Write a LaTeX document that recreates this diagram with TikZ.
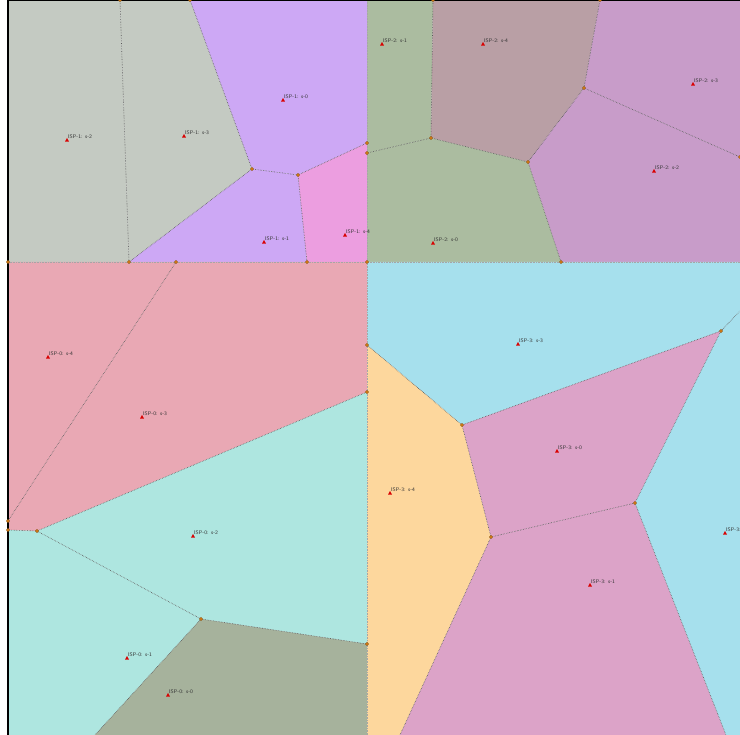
\documentclass[tikz,border=0pt]{standalone}
\usepackage{tikz}
\tikzset{every picture/.style={line width=0.5pt}}
\definecolor{ispgray}{RGB}{196,202,194}
\definecolor{isppurple}{RGB}{205,168,245}
\definecolor{isppinkA}{RGB}{236,158,224}
\definecolor{ispgreen}{RGB}{171,188,160}
\definecolor{ispbrown}{RGB}{185,159,165}
\definecolor{ispmauve}{RGB}{200,156,201}
\definecolor{isprose}{RGB}{233,168,180}
\definecolor{ispaqua}{RGB}{174,230,224}
\definecolor{ispolive}{RGB}{166,178,156}
\definecolor{ispsky}{RGB}{166,224,237}
\definecolor{isporange}{RGB}{253,215,157}
\definecolor{isppinkB}{RGB}{220,163,200}
\definecolor{vdot}{RGB}{224,130,20}
\tikzset{
  cellborder/.style={draw=black!65,densely dotted,line width=0.6pt},
  sitelabel/.style={anchor=south west,inner sep=0.4pt,font=\fontsize{5.3}{6}\sffamily,text=black!80},
}
\newcommand{\sitemark}[3]{%
  \fill[red!85!black] (#1-2,#2+1.6) -- (#1+2,#2+1.6) -- (#1,#2-2) -- cycle;
  \node[sitelabel] at (#1+0.5,#2-1.2) {#3};}
\newcommand{\vmark}[2]{\filldraw[fill=vdot,draw=vdot!60!black,line width=0.3pt] (#1,#2) circle (1.7);}

\begin{document}
\begin{tikzpicture}[x=1pt,y=-1pt]
\useasboundingbox (0,0) rectangle (740,735);
\fill[white] (0,0) rectangle (740,735);
% ISP-1 cells
\fill[ispgray] (8,0) -- (120,0) -- (129,262) -- (8,262) -- cycle;
\fill[ispgray] (120,0) -- (190,0) -- (252,169) -- (129,262) -- cycle;
\fill[isppurple] (190,0) -- (367,0) -- (367,143) -- (298,175) -- (252,169) -- cycle;
\fill[isppurple] (252,169) -- (298,175) -- (307,262) -- (129,262) -- cycle;
\fill[isppinkA] (298,175) -- (367,143) -- (367,262) -- (307,262) -- cycle;
% ISP-2 cells
\fill[ispgreen] (367,0) -- (433,0) -- (431,138) -- (367,153) -- cycle;
\fill[ispbrown] (433,0) -- (600,0) -- (584,88) -- (528,162) -- (431,138) -- cycle;
\fill[ispmauve] (600,0) -- (740,0) -- (740,157) -- (584,88) -- cycle;
\fill[ispmauve] (584,88) -- (740,157) -- (740,262) -- (561,262) -- (528,162) -- cycle;
\fill[ispgreen] (367,153) -- (431,138) -- (528,162) -- (561,262) -- (367,262) -- cycle;
% ISP-0 cells
\fill[isprose] (8,262) -- (176,262) -- (8,521) -- cycle;
\fill[isprose] (176,262) -- (367,262) -- (367,392) -- (37,531) -- (8,530) -- (8,521) -- cycle;
\fill[ispaqua] (37,531) -- (367,392) -- (367,644) -- (201,619) -- cycle;
\fill[ispaqua] (8,530) -- (37,531) -- (201,619) -- (95,735) -- (8,735) -- cycle;
\fill[ispolive] (201,619) -- (367,644) -- (367,735) -- (95,735) -- cycle;
% ISP-3 cells
\fill[ispsky] (367,262) -- (740,262) -- (740,311) -- (721,331) -- (462,425) -- (367,345) -- cycle;
\fill[isporange] (367,345) -- (462,425) -- (491,537) -- (400,735) -- (367,735) -- cycle;
\fill[isppinkB] (462,425) -- (721,331) -- (635,503) -- (491,537) -- cycle;
\fill[isppinkB] (491,537) -- (635,503) -- (726,735) -- (400,735) -- cycle;
\fill[ispsky] (740,311) -- (721,331) -- (635,503) -- (726,735) -- (740,735) -- cycle;
% cell borders
\draw[cellborder,draw=black!35] (367,0) -- (367,735);
\draw[cellborder,draw=black!35] (8,262) -- (740,262);
\draw[cellborder] (120,0) -- (129,262);
\draw[cellborder] (190,0) -- (252,169) -- (129,262);
\draw[cellborder] (252,169) -- (298,175) -- (367,143);
\draw[cellborder] (298,175) -- (307,262);
\draw[cellborder] (433,0) -- (431,138) -- (367,153);
\draw[cellborder] (431,138) -- (528,162) -- (584,88) -- (600,0);
\draw[cellborder] (584,88) -- (740,157);
\draw[cellborder] (528,162) -- (561,262);
\draw[cellborder] (176,262) -- (8,521);
\draw[cellborder] (8,530) -- (37,531) -- (367,392);
\draw[cellborder] (37,531) -- (201,619) -- (367,644);
\draw[cellborder] (201,619) -- (95,735);
\draw[cellborder] (367,345) -- (462,425) -- (721,331) -- (740,311);
\draw[cellborder] (462,425) -- (491,537) -- (635,503) -- (721,331);
\draw[cellborder] (491,537) -- (400,735);
\draw[cellborder] (635,503) -- (726,735);
% frame
\draw[black,line width=1.2pt] (8,735) -- (8,0) -- (740,0);
% vertices
\foreach \vx/\vy in {120/0,190/0,252/169,298/175,367/143,367/153,129/262,176/262,307/262,
  367/262,8/262,433/0,600/0,431/138,528/162,584/88,561/262,740/157,367/345,367/392,
  462/425,721/331,491/537,635/503,367/644,201/619,37/531,8/521,8/530}
  {\vmark{\vx}{\vy}}
% sites
\sitemark{67}{140}{ISP-1: s-2}
\sitemark{184}{136}{ISP-1: s-3}
\sitemark{283}{100}{ISP-1: s-0}
\sitemark{264}{242}{ISP-1: s-1}
\sitemark{345}{235}{ISP-1: s-4}
\sitemark{382}{44}{ISP-2: s-1}
\sitemark{483}{44}{ISP-2: s-4}
\sitemark{693}{84}{ISP-2: s-3}
\sitemark{654}{171}{ISP-2: s-2}
\sitemark{433}{243}{ISP-2: s-0}
\sitemark{48}{357}{ISP-0: s-4}
\sitemark{142}{417}{ISP-0: s-3}
\sitemark{193}{536}{ISP-0: s-2}
\sitemark{127}{658}{ISP-0: s-1}
\sitemark{168}{695}{ISP-0: s-0}
\sitemark{518}{344}{ISP-3: s-3}
\sitemark{557}{451}{ISP-3: s-0}
\sitemark{390}{493}{ISP-3: s-4}
\sitemark{590}{585}{ISP-3: s-1}
\sitemark{725}{533}{ISP-3: s-2}
\end{tikzpicture}
\end{document}
